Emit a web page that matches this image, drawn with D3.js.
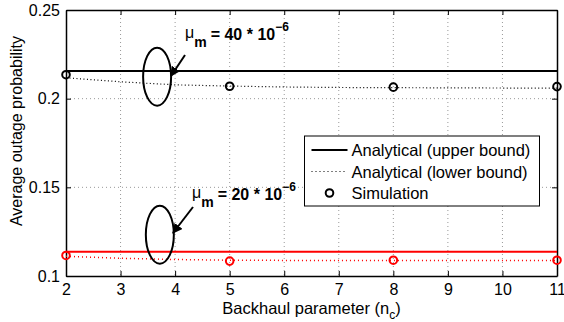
<!DOCTYPE html>
<html>
<head>
<meta charset="utf-8">
<script src="https://cdn.jsdelivr.net/npm/d3@7"></script>
<style>
  body { margin: 0; background: #fff; }
  svg { display: block; font-family: "Liberation Sans", Arial, sans-serif; }
</style>
</head>
<body>
<div id="chart"></div>
<script>
// backhaul parameter n_c
const nc = [2, 3, 4, 5, 6, 7, 8, 9, 10, 11];
// mu_m = 40e-6
const upper40 = [0.2156, 0.2156, 0.2156, 0.2156, 0.2156, 0.2156, 0.2156, 0.2156, 0.2156, 0.2156];
const lower40 = [0.2118, 0.2095, 0.2078, 0.2071, 0.2066, 0.2063, 0.2062, 0.2061, 0.2060, 0.2060];
// mu_m = 20e-6
const upper20 = [0.1137, 0.1137, 0.1137, 0.1137, 0.1137, 0.1137, 0.1137, 0.1137, 0.1137, 0.1137];
const lower20 = [0.1111, 0.1100, 0.1093, 0.1089, 0.1088, 0.1088, 0.1088, 0.1088, 0.1088, 0.1088];
// simulation points
const simX = [2, 5, 8, 11];
const sim40 = [0.2135, 0.2070, 0.2065, 0.2068];
const sim20 = [0.1116, 0.1084, 0.1089, 0.1089];
const yTicks = [0.1, 0.15, 0.2, 0.25];
const legendLabels = ["Analytical (upper bound)", "Analytical (lower bound)", "Simulation"];

const W = 564, H = 322;
const margin = { top: 10, right: 7, bottom: 46, left: 66 };
const w = W - margin.left - margin.right;
const h = H - margin.top - margin.bottom;

const svg = d3.select("#chart").append("svg")
  .attr("width", W).attr("height", H);
const g = svg.append("g")
  .attr("transform", "translate(" + margin.left + "," + margin.top + ")");

const x = d3.scaleLinear().domain([2, 11]).range([0, w]);
const y = d3.scaleLinear().domain([0.1, 0.25]).range([h, 0]);

// grid
g.append("g").selectAll("line").data(nc.slice(1, -1)).enter().append("line")
  .attr("x1", d => x(d)).attr("x2", d => x(d)).attr("y1", 0).attr("y2", h)
  .attr("stroke", "#999").attr("stroke-width", 1).attr("stroke-dasharray", "1,3");
g.append("g").selectAll("line").data(yTicks.slice(1, -1)).enter().append("line")
  .attr("x1", 0).attr("x2", w).attr("y1", d => y(d)).attr("y2", d => y(d))
  .attr("stroke", "#999").attr("stroke-width", 1).attr("stroke-dasharray", "1,3");

// axes (ticks pointing inward, on all sides)
const styleAxis = sel => {
  sel.selectAll("path").attr("stroke", "#000").attr("stroke-width", 1.5);
  sel.selectAll("line").attr("stroke", "#000");
  sel.selectAll("text").attr("fill", "#000").style("font-size", "16px");
};
g.append("g").attr("transform", "translate(0," + h + ")")
  .call(d3.axisBottom(x).tickValues(nc).tickFormat(d3.format("d")).tickSizeInner(-5).tickSizeOuter(0).tickPadding(8))
  .call(styleAxis);
g.append("g")
  .call(d3.axisLeft(y).tickValues(yTicks).tickFormat(d => d3.format("")(d)).tickSizeInner(-5).tickSizeOuter(0).tickPadding(6))
  .call(styleAxis);
g.append("g")
  .call(d3.axisTop(x).tickValues(nc).tickFormat("").tickSizeInner(-5).tickSizeOuter(0))
  .call(styleAxis);
g.append("g").attr("transform", "translate(" + w + ",0)")
  .call(d3.axisRight(y).tickValues(yTicks).tickFormat("").tickSizeInner(-5).tickSizeOuter(0))
  .call(styleAxis);

// series
const line = d3.line().x((d, i) => x(nc[i])).y(d => y(d));
const series = [
  { v: upper40, c: "#000", dash: null, wdt: 2 },
  { v: lower40, c: "#000", dash: "1,2.5", wdt: 1.2 },
  { v: upper20, c: "#ff0000", dash: null, wdt: 2 },
  { v: lower20, c: "#ff0000", dash: "1,3", wdt: 1.5 }
];
g.selectAll(".series").data(series).enter().append("path")
  .attr("class", "series")
  .attr("d", d => line(d.v))
  .attr("fill", "none")
  .attr("stroke", d => d.c)
  .attr("stroke-width", d => d.wdt)
  .attr("stroke-dasharray", d => d.dash);

const sims = [{ v: sim40, c: "#000" }, { v: sim20, c: "#ff0000" }];
sims.forEach(s => {
  g.selectAll(null).data(s.v).enter().append("circle")
    .attr("cx", (d, i) => x(simX[i])).attr("cy", d => y(d)).attr("r", 3.8)
    .attr("fill", "none").attr("stroke", s.c).attr("stroke-width", 2);
});

// annotations: ellipses + arrows
svg.append("defs").append("marker")
  .attr("id", "arr").attr("viewBox", "0 0 10 10").attr("refX", 9).attr("refY", 5)
  .attr("markerWidth", 5).attr("markerHeight", 5).attr("orient", "auto")
  .append("path").attr("d", "M0,0 L10,5 L0,10 z").attr("fill", "#000");

const ann = [
  { cx: 3.67, cy: 0.2124, rx: 14, ry: 29, from: [185, 55], to: [171, 76], lx: 185, ly: 38, val: "40" },
  { cx: 3.72, cy: 0.1233, rx: 14, ry: 29, from: [193, 207], to: [173, 233], lx: 192, ly: 198, val: "20" }
];
ann.forEach(a => {
  g.append("ellipse")
    .attr("cx", x(a.cx)).attr("cy", y(a.cy)).attr("rx", a.rx).attr("ry", a.ry)
    .attr("fill", "none").attr("stroke", "#000").attr("stroke-width", 2);
  svg.append("line")
    .attr("x1", a.from[0]).attr("y1", a.from[1]).attr("x2", a.to[0]).attr("y2", a.to[1])
    .attr("stroke", "#000").attr("stroke-width", 2).attr("marker-end", "url(#arr)");
  const t = svg.append("text").attr("x", a.lx).attr("y", a.ly).style("font-size", "16px");
  t.append("tspan").text("μ");
  t.append("tspan").attr("dy", 9).style("font-size", "14px").style("font-weight", "bold").text("m");
  t.append("tspan").attr("dy", -7).attr("dx", 4).style("font-weight", "bold").text("= " + a.val + " * 10");
  t.append("tspan").attr("dy", -9).style("font-size", "12px").style("font-weight", "bold").text("−6");
});

// legend
const lg = svg.append("g").attr("transform", "translate(304.5,136)");
lg.append("rect").attr("width", 235).attr("height", 70)
  .attr("fill", "#fff").attr("stroke", "#000").attr("stroke-width", 1);
const rows = lg.selectAll(".row").data(legendLabels).enter().append("g")
  .attr("transform", (d, i) => "translate(0," + (14 + i * 21.5) + ")");
rows.filter((d, i) => i < 2).append("line")
  .attr("x1", 7).attr("x2", 43).attr("y1", 0).attr("y2", 0)
  .attr("stroke", "#000")
  .attr("stroke-width", (d, i) => i === 0 ? 2 : 1)
  .attr("stroke-dasharray", (d, i) => i === 0 ? null : "1,3");
rows.filter((d, i) => i === 2).append("circle")
  .attr("cx", 25).attr("cy", 0).attr("r", 3.8)
  .attr("fill", "none").attr("stroke", "#000").attr("stroke-width", 2);
rows.append("text").attr("x", 47).attr("y", 6)
  .style("font-size", "16.5px").text(d => d);

// axis labels
const xl = svg.append("text")
  .attr("x", margin.left + w / 2).attr("y", 313.5)
  .attr("text-anchor", "middle").style("font-size", "16.5px");
xl.append("tspan").text("Backhaul parameter (n");
xl.append("tspan").attr("dy", 5).style("font-size", "12px").text("c");
xl.append("tspan").attr("dy", -5).text(")");

svg.append("text")
  .attr("transform", "rotate(-90)")
  .attr("x", -131).attr("y", 22)
  .attr("text-anchor", "middle").style("font-size", "16px")
  .text("Average outage probability");
</script>
</body>
</html>
